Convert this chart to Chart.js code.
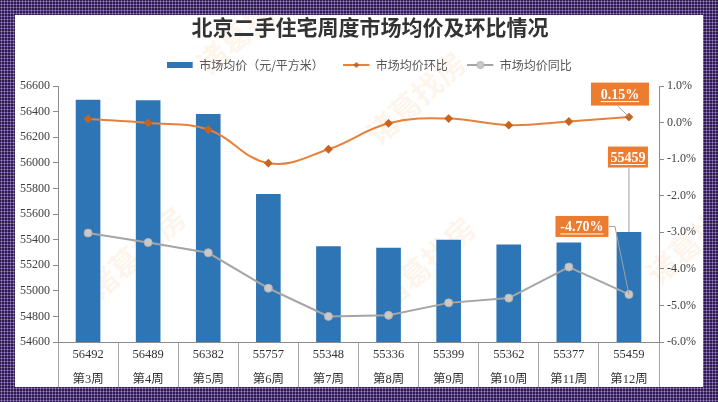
<!DOCTYPE html>
<html>
<head>
<meta charset="utf-8">
<script src="https://cdn.jsdelivr.net/npm/chart.js@4/dist/chart.umd.min.js"></script>
<style>
  html, body { margin: 0; padding: 0; }
  body {
    width: 718px; height: 402px; overflow: hidden; position: relative;
    background-color: #2c1d4c;
    background-image: radial-gradient(#a37fd4 0.9px, transparent 1.1px);
    background-size: 3px 3px;
  }
  #frame {
    position: absolute; left: 15px; top: 15px; width: 688px; height: 372px;
    background: #fff; overflow: hidden;
  }
  .wm {
    position: absolute; font: bold 30px "Noto Sans CJK SC", sans-serif;
    color: rgba(245, 170, 100, 0.12); transform: rotate(-42deg); white-space: nowrap;
  }
  #chart { position: absolute; left: 0; top: 0; }
</style>
</head>
<body>
<div id="frame">
  <div class="wm" style="left:60px;top:215px;">诸葛找房</div>
  <div class="wm" style="left:340px;top:60px;">诸葛找房</div>
  <div class="wm" style="left:350px;top:225px;">诸葛找房</div>
  <div class="wm" style="left:620px;top:200px;">诸葛找房</div>
  <div class="wm" style="left:170px;top:-10px;">诸葛找房</div>
  <canvas id="chart" width="688" height="372"></canvas>
</div>
<script>
/* =========================
   DATA
========================= */
const weeks = ["第3周", "第4周", "第5周", "第6周", "第7周", "第8周", "第9周", "第10周", "第11周", "第12周"];
const prices = [56492, 56489, 56382, 55757, 55348, 55336, 55399, 55362, 55377, 55459];
const momChange = [0.10, -0.01, -0.19, -1.11, -0.73, -0.02, 0.11, -0.07, 0.03, 0.15];
const yoyChange = [-3.02, -3.28, -3.56, -4.53, -5.30, -5.27, -4.93, -4.80, -3.95, -4.70];

const seriesNames = ["市场均价（元/平方米）", "市场均价环比", "市场均价同比"];
const priceAxis = { min: 54600, max: 56600, step: 200 };
const pctAxis = { min: -6, max: 1, step: 1 };

/* =========================
   STYLE
========================= */
const BLUE = "#2e75b6";
const ORANGE = "#e8803a";
const GRAY = "#a5a5a5";
const AXIS = "#8c8c8c";
const SERIF = '"Liberation Serif", "Noto Sans CJK SC", serif';
const SANS = '"Noto Sans CJK SC", sans-serif';

/* legend swatches */
function swatch(kind) {
  const c = document.createElement("canvas");
  c.width = 28; c.height = 10;
  const g = c.getContext("2d");
  if (kind === "bar") {
    g.fillStyle = BLUE;
    g.fillRect(0, 2, 26, 6);
  } else if (kind === "mom") {
    g.strokeStyle = ORANGE; g.lineWidth = 2;
    g.beginPath(); g.moveTo(0, 5); g.lineTo(26, 5); g.stroke();
    g.fillStyle = "#c8641e";
    g.beginPath(); g.moveTo(13, 2); g.lineTo(16, 5); g.lineTo(13, 8); g.lineTo(10, 5); g.closePath(); g.fill();
  } else {
    g.strokeStyle = GRAY; g.lineWidth = 2;
    g.beginPath(); g.moveTo(0, 5); g.lineTo(26, 5); g.stroke();
    g.fillStyle = "#c9c9c9"; g.strokeStyle = "#b0b0b0"; g.lineWidth = 1;
    g.beginPath(); g.arc(13, 5, 3.5, 0, Math.PI * 2); g.fill(); g.stroke();
  }
  return c;
}

/* callouts next to last week */
const callouts = [
  { dataset: 1, index: 9, text: momChange[9].toFixed(2) + "%", dx: -9, dy: -23, w: 58, h: 23, leader: [[-11, -11], [0, 0]] },
  { dataset: 0, index: 9, text: String(prices[9]), dx: -1, dy: -75, w: 40, h: 21, leader: [[0, -64], [0, 0]] },
  { dataset: 2, index: 9, text: yoyChange[9].toFixed(2) + "%", dx: -47, dy: -68, w: 53, h: 21, leader: [[-20, -68], [-14, -68], [0, 0]] }
];

const calloutPlugin = {
  id: "callouts",
  afterDatasetsDraw(chart) {
    const ctx = chart.ctx;
    ctx.save();
    callouts.forEach(c => {
      const el = chart.getDatasetMeta(c.dataset).data[c.index];
      const ax = el.x, ay = el.y;

      ctx.strokeStyle = "#a0a0a0";
      ctx.lineWidth = 1;
      ctx.beginPath();
      c.leader.forEach((p, i) => {
        if (i === 0) ctx.moveTo(ax + p[0], ay + p[1]);
        else ctx.lineTo(ax + p[0], ay + p[1]);
      });
      ctx.stroke();

      const cx = ax + c.dx, cy = ay + c.dy;
      ctx.fillStyle = "#ec7c30";
      ctx.fillRect(cx - c.w / 2, cy - c.h / 2, c.w, c.h);

      ctx.font = "bold 14px " + SERIF;
      ctx.fillStyle = "#fff";
      ctx.textAlign = "center";
      ctx.textBaseline = "middle";
      ctx.fillText(c.text, cx, cy + 1);
      const tw = ctx.measureText(c.text).width;
      ctx.strokeStyle = "#fff";
      ctx.beginPath();
      ctx.moveTo(cx - tw / 2, cy + 7.5);
      ctx.lineTo(cx + tw / 2, cy + 7.5);
      ctx.stroke();
    });
    ctx.restore();
  }
};

/* =========================
   CHART
========================= */
new Chart(document.getElementById("chart"), {
  type: "bar",
  data: {
    labels: weeks.map((w, i) => [String(prices[i]), w]),
    datasets: [
      {
        type: "bar",
        label: seriesNames[0],
        data: prices,
        yAxisID: "y",
        backgroundColor: BLUE,
        barPercentage: 0.41,
        categoryPercentage: 1,
        order: 3
      },
      {
        type: "line",
        label: seriesNames[1],
        data: momChange,
        yAxisID: "y1",
        borderColor: ORANGE,
        borderWidth: 2,
        tension: 0.4,
        pointStyle: "rectRot",
        pointRadius: 3,
        pointBackgroundColor: "#c8641e",
        pointBorderColor: "#c8641e",
        order: 1
      },
      {
        type: "line",
        label: seriesNames[2],
        data: yoyChange,
        yAxisID: "y1",
        borderColor: GRAY,
        borderWidth: 2,
        tension: 0,
        pointStyle: "circle",
        pointRadius: 4,
        pointBackgroundColor: "#c9c9c9",
        pointBorderColor: "#b4b4b4",
        pointBorderWidth: 1,
        order: 2
      }
    ]
  },
  options: {
    responsive: false,
    animation: false,
    devicePixelRatio: 1,
    // right padding < 0 moves title/legend centre right like the original
    layout: { padding: { left: 0, top: 0, right: -22, bottom: 0 } },
    plugins: {
      title: {
        display: true,
        text: "北京二手住宅周度市场均价及环比情况",
        color: "#333",
        font: { family: SANS, size: 21, weight: "bold", lineHeight: 1 },
        padding: { top: 2, bottom: 0 }
      },
      legend: {
        display: true,
        labels: {
          usePointStyle: true,
          pointStyleWidth: 25,
          padding: 21,
          color: "#555",
          font: { family: SANS, size: 12 },
          sort: (a, b) => a.datasetIndex - b.datasetIndex,
          generateLabels(chart) {
            const kinds = ["bar", "mom", "yoy"];
            return chart.data.datasets.map((ds, i) => ({
              text: ds.label,
              datasetIndex: i,
              pointStyle: swatch(kinds[i]),
              fontColor: "#555",
              lineWidth: 0,
              hidden: false
            }));
          }
        }
      },
      tooltip: { enabled: false }
    },
    scales: {
      x: {
        grid: { offset: true, drawOnChartArea: false, drawTicks: true, tickLength: 45, color: "#a6a6a6" },
        border: { display: true, color: AXIS },
        ticks: {
          autoSkip: false,
          maxRotation: 0,
          padding: -44.5,
          color: "#333",
          font: { family: SERIF, size: 12.5, lineHeight: "25px" }
        },
        afterFit: s => { s.height = 45; }
      },
      // empty top axis: only keeps a small gap under the legend
      xGap: {
        type: "category",
        position: "top",
        grid: { display: false },
        border: { display: false },
        ticks: { display: false },
        afterFit: s => { s.height = 5; }
      },
      y: {
        position: "left",
        min: priceAxis.min,
        max: priceAxis.max,
        grid: { drawOnChartArea: false, tickLength: 5, color: AXIS },
        border: { color: AXIS },
        ticks: {
          stepSize: priceAxis.step,
          padding: 3,
          color: "#404040",
          font: { family: SERIF, size: 12 },
          callback: v => String(v)
        },
        afterFit: s => { s.width = 43; }
      },
      y1: {
        position: "right",
        min: pctAxis.min,
        max: pctAxis.max,
        grid: { drawOnChartArea: false, tickLength: 5, color: AXIS },
        border: { color: AXIS },
        ticks: {
          stepSize: pctAxis.step,
          padding: 3,
          color: "#404040",
          font: { family: SERIF, size: 12 },
          callback: v => v.toFixed(1) + "%"
        },
        afterFit: s => { s.width = 66; }
      }
    }
  },
  plugins: [calloutPlugin]
});
</script>
</body>
</html>
